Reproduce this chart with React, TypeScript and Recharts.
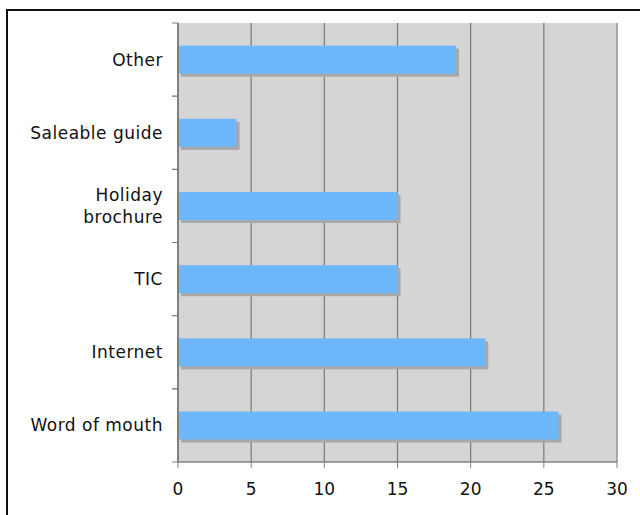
import { BarChart, Bar, XAxis, YAxis, CartesianGrid, ReferenceLine } from "recharts";

const categories = ["Other", "Saleable guide", "Holiday brochure", "TIC", "Internet", "Word of mouth"];
const values = [19, 4, 15, 15, 21, 26];
const xTicks = [0, 5, 10, 15, 20, 25, 30];

const data = categories.map((name, i) => ({ name, value: values[i] }));

const labelLines: Record<string, string[]> = {
  "Holiday brochure": ["Holiday", "brochure"],
};

const FONT = "'DejaVu Sans', Verdana, sans-serif";

function CategoryTick(props: any) {
  const { x, y, payload } = props;
  const off = payload.offset ?? 0;
  const lines = labelLines[payload.value] ?? [payload.value];
  const lh = 22;
  const start = y - ((lines.length - 1) * lh) / 2;
  return (
    <g>
      <line x1={x + 2} x2={x + 8} y1={y - off} y2={y - off} stroke="#808080" />
      <line x1={x + 2} x2={x + 8} y1={y + off} y2={y + off} stroke="#808080" />
      <text
        x={x - 7}
        y={start}
        textAnchor="end"
        dominantBaseline="central"
        fontFamily={FONT}
        fontSize={17}
        letterSpacing={0.5}
        fill="#111"
      >
        {lines.map((l, i) => (
          <tspan key={i} x={x - 7} y={start + i * lh}>
            {l}
          </tspan>
        ))}
      </text>
    </g>
  );
}

function ShadowBar(props: any) {
  const { x, y, width, height, fill } = props;
  if (!width) return null;
  return (
    <g>
      <rect x={x + 3} y={y + 3} width={width} height={height} fill="#a8a8a8" />
      <rect x={x} y={y} width={width} height={height} fill={fill} />
    </g>
  );
}

export default function App() {
  return (
    <div style={{ position: "absolute", left: 0, top: 0, width: 640, height: 515, background: "#fff" }}>
      <svg width={640} height={515} style={{ position: "absolute", left: 0, top: 0 }}>
        <path d="M7 515 V10 H640" fill="none" stroke="#111" strokeWidth={2} />
      </svg>
      <div style={{ position: "absolute", left: 0, top: 0 }}>
        <BarChart
          width={640}
          height={515}
          data={data}
          layout="vertical"
          barCategoryGap="31%"
          margin={{ top: 23, right: 23, bottom: 13, left: 8 }}
        >
          <CartesianGrid
            horizontal={false}
            vertical
            fill="#d5d5d5"
            stroke="#7a7a7a"
            strokeWidth={1.2}
          />
          <ReferenceLine x={30} stroke="#a8a8a8" strokeWidth={2} />
          <XAxis
            xAxisId="top"
            orientation="top"
            type="number"
            domain={[0, 30]}
            height={0}
            tick={false}
            tickLine={false}
            axisLine={{ stroke: "#aaa", strokeWidth: 1.5 }}
          />
          <XAxis
            type="number"
            domain={[0, 30]}
            ticks={xTicks}
            height={40}
            tickSize={6}
            tickMargin={15}
            tick={{ fontFamily: FONT, fontSize: 17, fill: "#111" }}
            stroke="#808080"
            axisLine={{ stroke: "#808080", strokeWidth: 1.5 }}
          />
          <YAxis
            type="category"
            dataKey="name"
            width={170}
            tickLine={false}
            axisLine={{ stroke: "#808080", strokeWidth: 2 }}
            tick={<CategoryTick />}
            interval={0}
          />
          <Bar dataKey="value" fill="#6db8fc" shape={<ShadowBar />} isAnimationActive={false} />
        </BarChart>
      </div>
    </div>
  );
}
